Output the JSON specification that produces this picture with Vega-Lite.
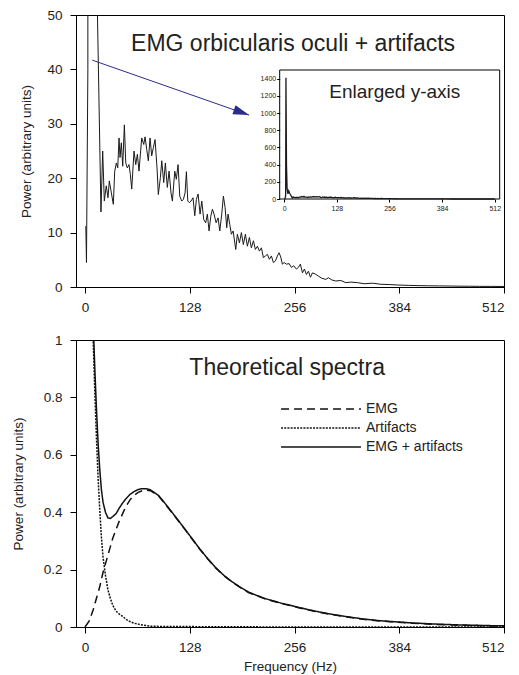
{
 "$schema": "https://vega.github.io/schema/vega-lite/v6.json",
 "padding": {"left": 10, "top": 7, "right": 0, "bottom": 0},
 "background": "white",
 "datasets": {
  "emg": [
   {"f":1.0,"p":11.2},{"f":1.8,"p":4.5},{"f":3.5,"p":40},{"f":4.2,"p":1410},{"f":5.5,"p":400},{"f":7,"p":120},{"f":9,"p":60},{"f":11,"p":95},{"f":13,"p":70},{"f":15,"p":52},
   {"f":19.5,"p":13.8},{"f":21.6,"p":25.0},{"f":23.6,"p":15.8},{"f":26,"p":18.6},{"f":28.1,"p":16.4},{"f":29.7,"p":19.5},{"f":32.2,"p":17.3},{"f":34.6,"p":15.2},{"f":36.3,"p":21.3},{"f":38.3,"p":22.8},
   {"f":40,"p":21.9},{"f":41.6,"p":27.4},{"f":42.8,"p":23.8},{"f":44.4,"p":26.5},{"f":46.1,"p":22.2},{"f":48.1,"p":29.8},{"f":49.8,"p":22.8},{"f":51.7,"p":21.9},{"f":53.8,"p":22.5},{"f":55.4,"p":20.7},
   {"f":57.1,"p":18.0},{"f":59.9,"p":25.0},{"f":62,"p":22.5},{"f":64,"p":24.4},{"f":66,"p":21.3},{"f":69.3,"p":27.4},{"f":71.8,"p":26.2},{"f":73.4,"p":27.6},{"f":75.4,"p":25.3},{"f":77.4,"p":23.2},
   {"f":79.5,"p":27.4},{"f":81.5,"p":24.1},{"f":83.5,"p":25.6},{"f":85.6,"p":27.1},{"f":88,"p":21.9},{"f":89.6,"p":17.0},{"f":92.1,"p":20.1},{"f":93.8,"p":23.2},{"f":96.2,"p":19.2},{"f":98.2,"p":22.8},
   {"f":100.6,"p":18.3},{"f":102.7,"p":21.3},{"f":105.1,"p":17.3},{"f":106.8,"p":15.8},{"f":109.7,"p":21.3},{"f":111.6,"p":19.8},{"f":113.7,"p":22.5},{"f":115.8,"p":16.7},{"f":118.2,"p":15.8},{"f":120.2,"p":16.1},
   {"f":122.3,"p":17.3},{"f":123.9,"p":21.2},{"f":125.6,"p":15.8},{"f":127.5,"p":15.5},{"f":129.6,"p":15.8},{"f":132,"p":16.4},{"f":134.1,"p":13.1},{"f":136.1,"p":16.1},{"f":138.2,"p":17.1},{"f":140.6,"p":13.4},
   {"f":142.7,"p":15.8},{"f":145.1,"p":12.4},{"f":147.5,"p":11.8},{"f":149.5,"p":13.4},{"f":151.6,"p":10.3},{"f":153.7,"p":13.0},{"f":155.7,"p":14.3},{"f":157.7,"p":13.4},{"f":160.2,"p":11.8},{"f":162.6,"p":12.7},
   {"f":164.7,"p":10.3},{"f":167.1,"p":13.4},{"f":169.1,"p":16.7},{"f":171.2,"p":14.6},{"f":173.2,"p":10.9},{"f":174.8,"p":13.4},{"f":176.9,"p":11.5},{"f":178.9,"p":9.7},{"f":181,"p":10.3},{"f":184.2,"p":6.9},
   {"f":186.2,"p":9.7},{"f":188.7,"p":8.1},{"f":191.1,"p":10.0},{"f":193.5,"p":7.8},{"f":196,"p":9.7},{"f":198.4,"p":7.5},{"f":200.9,"p":9.1},{"f":203.3,"p":7.2},{"f":205.8,"p":8.5},{"f":208.2,"p":6.9},
   {"f":210.7,"p":7.5},{"f":213.1,"p":6.6},{"f":215.6,"p":7.2},{"f":218,"p":5.4},{"f":220.4,"p":5.7},{"f":222.9,"p":6.0},{"f":225.3,"p":5.1},{"f":227.8,"p":5.7},{"f":230.2,"p":4.5},{"f":232.7,"p":4.8},
   {"f":235.1,"p":5.7},{"f":237.2,"p":6.3},{"f":239.2,"p":5.5},{"f":241.2,"p":4.2},{"f":243.3,"p":4.5},{"f":246.1,"p":4.2},{"f":249.4,"p":4.3},{"f":252.2,"p":3.6},{"f":255.1,"p":3.9},{"f":258.3,"p":3.3},
   {"f":260.8,"p":3.6},{"f":263.2,"p":4.2},{"f":265.7,"p":2.6},{"f":268.1,"p":3.3},{"f":270.6,"p":2.3},{"f":273,"p":2.9},{"f":275.5,"p":1.8},{"f":277.9,"p":2.6},{"f":281.2,"p":2.4},{"f":285.2,"p":2.0},
   {"f":289.4,"p":1.6},{"f":294.3,"p":1.4},{"f":297.5,"p":1.7},{"f":301.6,"p":1.3},{"f":306.5,"p":1.1},{"f":312.6,"p":1.2},{"f":318.7,"p":0.8},{"f":324.8,"p":0.9},{"f":332.9,"p":0.8},{"f":341.1,"p":0.6},
   {"f":351.3,"p":0.7},{"f":361.5,"p":0.5},{"f":371.7,"p":0.45},{"f":381.8,"p":0.37},{"f":395,"p":0.3},{"f":408,"p":0.25},{"f":420,"p":0.22},{"f":433,"p":0.2},{"f":445,"p":0.18},{"f":457,"p":0.15},
   {"f":470,"p":0.14},{"f":482,"p":0.12},{"f":497,"p":0.11},{"f":512,"p":0.1}
  ],
  "theory": [
   {"s":"EMG","f":0,"p":0},{"s":"EMG","f":5,"p":0.02},{"s":"EMG","f":10,"p":0.06},{"s":"EMG","f":12,"p":0.08},{"s":"EMG","f":14,"p":0.10},{"s":"EMG","f":16,"p":0.12},{"s":"EMG","f":18,"p":0.14},{"s":"EMG","f":20,"p":0.165},{"s":"EMG","f":22,"p":0.19},{"s":"EMG","f":25,"p":0.22},
   {"s":"EMG","f":28,"p":0.25},{"s":"EMG","f":31,"p":0.28},{"s":"EMG","f":34,"p":0.31},{"s":"EMG","f":38,"p":0.34},{"s":"EMG","f":42,"p":0.37},{"s":"EMG","f":46,"p":0.395},{"s":"EMG","f":50,"p":0.42},{"s":"EMG","f":55,"p":0.443},{"s":"EMG","f":60,"p":0.459},{"s":"EMG","f":65,"p":0.469},
   {"s":"EMG","f":70,"p":0.475},{"s":"EMG","f":75,"p":0.477},{"s":"EMG","f":80,"p":0.475},{"s":"EMG","f":90,"p":0.456},{"s":"EMG","f":100,"p":0.421},{"s":"EMG","f":110,"p":0.385},{"s":"EMG","f":120,"p":0.348},{"s":"EMG","f":130,"p":0.31},{"s":"EMG","f":140,"p":0.272},{"s":"EMG","f":150,"p":0.237},
   {"s":"EMG","f":160,"p":0.205},{"s":"EMG","f":170,"p":0.178},{"s":"EMG","f":180,"p":0.156},{"s":"EMG","f":190,"p":0.137},{"s":"EMG","f":200,"p":0.12},{"s":"EMG","f":220,"p":0.098},{"s":"EMG","f":240,"p":0.082},{"s":"EMG","f":260,"p":0.068},{"s":"EMG","f":280,"p":0.055},{"s":"EMG","f":300,"p":0.044},
   {"s":"EMG","f":320,"p":0.035},{"s":"EMG","f":340,"p":0.027},{"s":"EMG","f":360,"p":0.021},{"s":"EMG","f":380,"p":0.017},{"s":"EMG","f":400,"p":0.013},{"s":"EMG","f":430,"p":0.009},{"s":"EMG","f":460,"p":0.006},{"s":"EMG","f":490,"p":0.004},{"s":"EMG","f":512,"p":0.003},
   {"s":"Artifacts","f":4,"p":2.5},{"s":"Artifacts","f":6,"p":1.8},{"s":"Artifacts","f":8,"p":1.3},{"s":"Artifacts","f":10,"p":1.0},{"s":"Artifacts","f":12,"p":0.82},{"s":"Artifacts","f":14,"p":0.66},{"s":"Artifacts","f":16,"p":0.52},{"s":"Artifacts","f":18,"p":0.41},{"s":"Artifacts","f":20,"p":0.315},{"s":"Artifacts","f":22,"p":0.245},
   {"s":"Artifacts","f":25,"p":0.18},{"s":"Artifacts","f":28,"p":0.13},{"s":"Artifacts","f":31,"p":0.10},{"s":"Artifacts","f":34,"p":0.075},{"s":"Artifacts","f":38,"p":0.055},{"s":"Artifacts","f":42,"p":0.045},{"s":"Artifacts","f":46,"p":0.037},{"s":"Artifacts","f":50,"p":0.027},{"s":"Artifacts","f":55,"p":0.019},{"s":"Artifacts","f":60,"p":0.013},
   {"s":"Artifacts","f":65,"p":0.01},{"s":"Artifacts","f":70,"p":0.007},{"s":"Artifacts","f":75,"p":0.005},{"s":"Artifacts","f":80,"p":0.003},{"s":"Artifacts","f":90,"p":0.002},{"s":"Artifacts","f":100,"p":0.002},{"s":"Artifacts","f":150,"p":0.001},{"s":"Artifacts","f":200,"p":0.0005},{"s":"Artifacts","f":300,"p":0},{"s":"Artifacts","f":400,"p":0},{"s":"Artifacts","f":512,"p":0},
   {"s":"EMG + artifacts","f":6,"p":1.83},{"s":"EMG + artifacts","f":8,"p":1.34},{"s":"EMG + artifacts","f":10,"p":1.06},{"s":"EMG + artifacts","f":12,"p":0.90},{"s":"EMG + artifacts","f":14,"p":0.76},{"s":"EMG + artifacts","f":16,"p":0.64},{"s":"EMG + artifacts","f":18,"p":0.55},{"s":"EMG + artifacts","f":20,"p":0.48},{"s":"EMG + artifacts","f":22,"p":0.435},{"s":"EMG + artifacts","f":25,"p":0.40},
   {"s":"EMG + artifacts","f":28,"p":0.38},{"s":"EMG + artifacts","f":31,"p":0.378},{"s":"EMG + artifacts","f":34,"p":0.385},{"s":"EMG + artifacts","f":38,"p":0.395},{"s":"EMG + artifacts","f":42,"p":0.415},{"s":"EMG + artifacts","f":46,"p":0.432},{"s":"EMG + artifacts","f":50,"p":0.447},{"s":"EMG + artifacts","f":55,"p":0.462},{"s":"EMG + artifacts","f":60,"p":0.472},{"s":"EMG + artifacts","f":65,"p":0.479},
   {"s":"EMG + artifacts","f":70,"p":0.482},{"s":"EMG + artifacts","f":75,"p":0.482},{"s":"EMG + artifacts","f":80,"p":0.478},{"s":"EMG + artifacts","f":90,"p":0.458},{"s":"EMG + artifacts","f":100,"p":0.423},{"s":"EMG + artifacts","f":110,"p":0.386},{"s":"EMG + artifacts","f":120,"p":0.349},{"s":"EMG + artifacts","f":130,"p":0.311},{"s":"EMG + artifacts","f":140,"p":0.273},{"s":"EMG + artifacts","f":150,"p":0.238},
   {"s":"EMG + artifacts","f":160,"p":0.206},{"s":"EMG + artifacts","f":170,"p":0.179},{"s":"EMG + artifacts","f":180,"p":0.157},{"s":"EMG + artifacts","f":190,"p":0.138},{"s":"EMG + artifacts","f":200,"p":0.121},{"s":"EMG + artifacts","f":220,"p":0.099},{"s":"EMG + artifacts","f":240,"p":0.083},{"s":"EMG + artifacts","f":260,"p":0.069},{"s":"EMG + artifacts","f":280,"p":0.056},{"s":"EMG + artifacts","f":300,"p":0.045},
   {"s":"EMG + artifacts","f":320,"p":0.036},{"s":"EMG + artifacts","f":340,"p":0.028},{"s":"EMG + artifacts","f":360,"p":0.022},{"s":"EMG + artifacts","f":380,"p":0.018},{"s":"EMG + artifacts","f":400,"p":0.014},{"s":"EMG + artifacts","f":430,"p":0.01},{"s":"EMG + artifacts","f":460,"p":0.007},{"s":"EMG + artifacts","f":490,"p":0.005},{"s":"EMG + artifacts","f":512,"p":0.004}
  ]
 },
 "spacing": 18,
 "resolve": {"legend": {"strokeDash": "independent"}},
 "vconcat": [
  {
   "width": 428,
   "height": 272,
   "layer": [
    {
     "layer": [
      {
       "data": {"name": "emg"},
       "mark": {"type": "line", "clip": true, "color": "#1a1a1a", "strokeWidth": 1},
       "encoding": {
        "x": {"field": "f", "type": "quantitative", "scale": {"domain": [-11, 512], "nice": false, "zero": false}, "axis": {"values": [0, 128, 256, 384, 512], "tickCount": 10, "title": null}},
        "y": {"field": "p", "type": "quantitative", "scale": {"domain": [0, 50], "nice": false, "zero": false}, "axis": {"values": [0, 10, 20, 30, 40, 50], "tickCount": 10, "title": "Power (arbitrary units)", "titlePadding": 13, "labelPadding": 8}}
       }
      },
      {
       "data": {"values": [{}]},
       "mark": {"type": "rule", "color": "#2b2b8f", "strokeWidth": 1},
       "encoding": {
        "x": {"datum": 8.9, "type": "quantitative"},
        "y": {"datum": 41.7, "type": "quantitative"},
        "x2": {"datum": 200.5},
        "y2": {"datum": 31.6}
       }
      },
      {
       "data": {"values": [{}]},
       "mark": {"type": "point", "shape": "M-2,-0.6L0,0L-2,0.6Z", "size": 256, "angle": 19.3, "filled": true, "color": "#2b2b8f", "opacity": 1},
       "encoding": {
        "x": {"datum": 200.5, "type": "quantitative"},
        "y": {"datum": 31.6, "type": "quantitative"}
       }
      },
      {
       "data": {"values": [{}]},
       "mark": {"type": "text", "text": "EMG orbicularis oculi + artifacts", "fontSize": 23, "align": "center", "baseline": "alphabetic", "color": "#222"},
       "encoding": {
        "x": {"datum": 254.3, "type": "quantitative"},
        "y": {"datum": 43.4, "type": "quantitative"}
       }
      }
     ]
    },
    {
     "layer": [
      {
       "data": {"values": [{}]},
       "mark": {"type": "rect", "fill": "white", "stroke": "black", "strokeWidth": 1},
       "encoding": {
        "x": {"datum": -11, "type": "quantitative", "scale": {"domain": [-11, 524], "range": [203.7, 423.7], "nice": false, "zero": false}, "axis": {"orient": "bottom", "offset": -88, "values": [0, 128, 256, 384, 512], "tickCount": 10, "title": null, "domain": false, "labelFontSize": 7, "tickSize": 3, "labelPadding": 2, "zindex": 1}},
        "x2": {"datum": 524},
        "y": {"datum": 0, "type": "quantitative", "scale": {"domain": [0, 1500], "range": [184, 55], "nice": false, "zero": false}, "axis": {"orient": "left", "offset": -203.7, "values": [0, 200, 400, 600, 800, 1000, 1200, 1400], "tickCount": 12, "format": "d", "title": null, "domain": false, "labelFontSize": 7, "tickSize": 3, "labelPadding": 1, "zindex": 1}},
        "y2": {"datum": 1500}
       }
      },
      {
       "data": {"name": "emg"},
       "mark": {"type": "line", "color": "#1a1a1a", "strokeWidth": 1.3},
       "encoding": {
        "x": {"field": "f", "type": "quantitative", "title": null},
        "y": {"field": "p", "type": "quantitative", "title": null}
       }
      },
      {
       "data": {"values": [{}]},
       "mark": {"type": "text", "text": "Enlarged y-axis", "fontSize": 19, "align": "center", "baseline": "alphabetic", "color": "#222"},
       "encoding": {
        "x": {"datum": 268.9, "type": "quantitative"},
        "y": {"datum": 1178, "type": "quantitative"}
       }
      }
     ]
    }
   ],
   "resolve": {"scale": {"x": "independent", "y": "independent"}, "axis": {"x": "independent", "y": "independent"}}
  },
  {
   "width": 428,
   "height": 287,
   "layer": [
    {
     "data": {"name": "theory"},
     "mark": {"type": "line", "clip": true, "color": "#111", "strokeWidth": 1.5},
     "encoding": {
      "x": {"field": "f", "type": "quantitative", "scale": {"domain": [-11, 512], "nice": false, "zero": false}, "axis": {"values": [0, 128, 256, 384, 512], "tickCount": 10, "title": "Frequency (Hz)", "titlePadding": 6}},
      "y": {"field": "p", "type": "quantitative", "scale": {"domain": [0, 1], "nice": false, "zero": false}, "axis": {"values": [0, 0.2, 0.4, 0.6, 0.8, 1], "tickCount": 10, "format": "~g", "title": "Power (arbitrary units)", "titlePadding": 18, "labelPadding": 8}},
      "strokeDash": {
       "field": "s", "type": "nominal",
       "scale": {"domain": ["EMG", "Artifacts", "EMG + artifacts"], "range": [[8, 5], [2, 1.2], [1, 0]]},
       "legend": {"orient": "none", "legendX": 238, "legendY": 62, "title": null, "symbolType": "M-8.2,0L8.2,0", "symbolSize": 95, "symbolStrokeWidth": 1.5, "symbolStrokeColor": "#111", "labelFontSize": 14, "labelOffset": 38, "rowPadding": 5, "padding": 0, "labelColor": "#222"}
      }
     }
    },
    {
     "data": {"values": [{}]},
     "mark": {"type": "text", "text": "Theoretical spectra", "fontSize": 23, "align": "center", "baseline": "alphabetic", "color": "#222"},
     "encoding": {
      "x": {"datum": 247, "type": "quantitative"},
      "y": {"datum": 0.878, "type": "quantitative"}
     }
    }
   ]
  }
 ],
 "config": {
  "font": "Liberation Sans",
  "view": {"stroke": "black", "strokeWidth": 1},
  "axis": {"grid": false, "labelOverlap": false, "domainColor": "black", "tickColor": "black", "labelColor": "#222", "titleColor": "#222", "labelFont": "Liberation Sans", "titleFont": "Liberation Sans", "labelFontSize": 13.5, "titleFontSize": 13.5, "titleFontWeight": "normal", "tickSize": 6, "labelPadding": 7, "domainWidth": 1, "tickWidth": 1},
  "legend": {"labelFont": "Liberation Sans"}
 }
}
